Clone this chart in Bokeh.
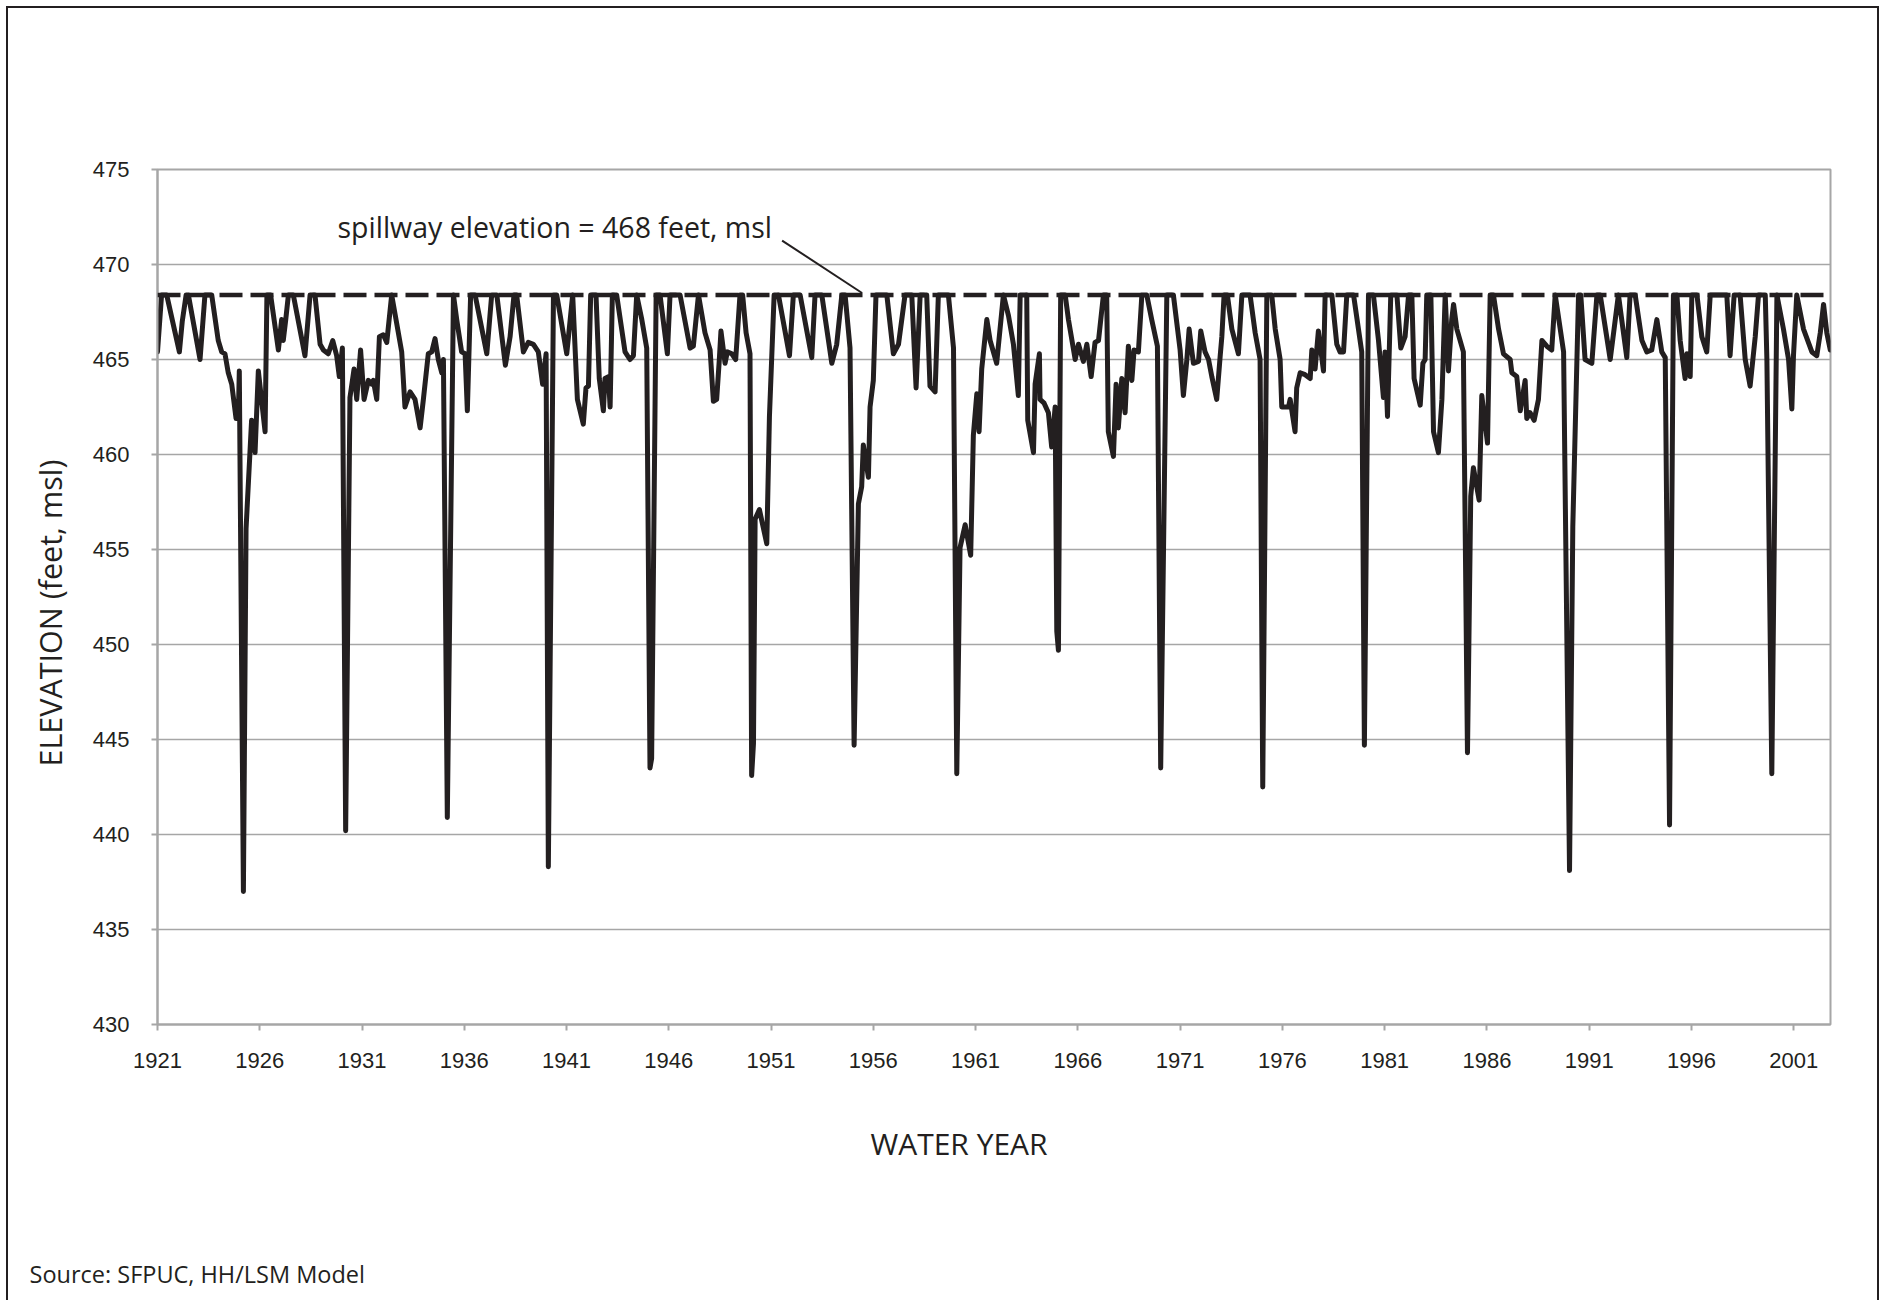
from bokeh.plotting import figure
from bokeh.models import Span, Label, Title, FixedTicker, ColumnDataSource
from bokeh.embed import file_html
from bokeh.resources import INLINE

# ---------------- data (water year, reservoir elevation in feet msl) ----------------
years_a = [
    1921.00, 1921.20, 1921.45, 1922.07, 1922.21, 1922.40, 1922.51, 1923.08, 1923.32, 1923.65,
    1923.97, 1924.14, 1924.30, 1924.46, 1924.63, 1924.84, 1924.95, 1925.00, 1925.20, 1925.33,
    1925.52, 1925.60, 1925.77, 1925.93, 1926.26, 1926.35, 1926.53, 1926.91, 1927.07, 1927.15,
    1927.27, 1927.40, 1927.64, 1928.21, 1928.46, 1928.70, 1928.95, 1929.11, 1929.35, 1929.57,
    1929.76, 1929.89, 1930.04, 1930.20, 1930.41, 1930.61, 1930.74, 1930.93, 1931.10,
]
elev_a = [
    465.4, 468.4, 468.4, 465.4, 467.0, 468.4, 468.4, 465.0, 468.4, 468.4,
    466.0, 465.4, 465.3, 464.3, 463.7, 461.9, 461.9, 464.4, 437.0, 456.1,
    460.1, 461.8, 460.1, 464.4, 461.2, 468.4, 468.4, 465.5, 467.1, 466.0,
    467.1, 468.4, 468.4, 465.2, 468.4, 468.4, 465.8, 465.5, 465.3, 466.0,
    465.2, 464.1, 465.6, 440.2, 463.0, 464.5, 462.9, 465.5, 462.9,
]

years_b = [
    1931.31, 1931.47, 1931.55, 1931.72, 1931.85, 1932.04, 1932.21, 1932.45, 1932.94, 1933.10,
    1933.35, 1933.59, 1933.84, 1934.00, 1934.24, 1934.41, 1934.57, 1934.73, 1934.90, 1934.98,
    1935.17, 1935.47, 1935.63, 1935.87, 1936.04, 1936.15, 1936.31, 1936.53, 1937.10, 1937.34,
    1937.59, 1938.01, 1938.24, 1938.43, 1938.56, 1938.89, 1939.13, 1939.38, 1939.62, 1939.83,
    1940.00, 1940.11, 1940.36, 1940.52, 1941.01, 1941.30,
]
elev_b = [
    463.9, 463.7, 463.9, 462.9, 466.2, 466.3, 465.9, 468.4, 465.4, 462.5,
    463.3, 462.9, 461.4, 462.9, 465.3, 465.4, 466.1, 465.0, 464.3, 465.0,
    440.9, 468.4, 467.1, 465.4, 465.3, 462.3, 468.4, 468.4, 465.3, 468.4,
    468.4, 464.7, 466.2, 468.4, 468.4, 465.4, 465.9, 465.8, 465.4, 463.7,
    465.3, 438.3, 468.4, 468.4, 465.3, 468.4,
]

years_c = [
    1941.53, 1941.82, 1941.95, 1942.07, 1942.18, 1942.44, 1942.60, 1942.80, 1942.88, 1943.05,
    1943.13, 1943.24, 1943.45, 1943.86, 1944.10, 1944.27, 1944.43, 1944.68, 1944.92, 1945.08,
    1945.16, 1945.38, 1945.57, 1945.93, 1946.06, 1946.55, 1947.04, 1947.20, 1947.45, 1947.77,
    1948.02, 1948.18, 1948.34, 1948.47, 1948.55, 1948.75, 1948.86, 1949.08, 1949.27, 1949.48,
    1949.61, 1949.78, 1949.97, 1950.05, 1950.14, 1950.22, 1950.43, 1950.79, 1950.92, 1951.15,
    1951.36, 1951.90,
]
elev_c = [
    462.9, 461.6, 463.5, 463.6, 468.4, 468.4, 464.0, 462.3, 464.0, 464.1,
    462.5, 468.4, 468.4, 465.4, 465.0, 465.2, 468.4, 467.1, 465.6, 443.5,
    444.0, 468.4, 468.4, 465.3, 468.4, 468.4, 465.6, 465.7, 468.4, 466.4,
    465.5, 462.8, 462.9, 465.0, 466.5, 464.8, 465.4, 465.3, 465.0, 468.4,
    468.4, 466.4, 465.3, 443.1, 444.8, 456.6, 457.1, 455.3, 462.0, 468.4,
    468.4, 465.2,
]

years_d = [
    1952.09, 1952.42, 1952.99, 1953.15, 1953.48, 1953.97, 1954.21, 1954.46, 1954.62, 1954.86,
    1955.06, 1955.27, 1955.43, 1955.51, 1955.76, 1955.84, 1956.00, 1956.13, 1956.66, 1956.98,
    1957.23, 1957.55, 1957.88, 1958.09, 1958.29, 1958.61, 1958.77, 1959.02, 1959.18, 1959.67,
    1959.92, 1960.08, 1960.24, 1960.49, 1960.76, 1960.89, 1961.06, 1961.17, 1961.30, 1961.55,
    1961.71, 1962.03,
]
elev_d = [
    468.4, 468.4, 465.1, 468.4, 468.4, 464.8, 465.8, 468.4, 468.4, 465.6,
    444.7, 457.4, 458.3, 460.5, 458.8, 462.5, 463.9, 468.4, 468.4, 465.3,
    465.8, 468.4, 468.4, 463.5, 468.4, 468.4, 463.6, 463.3, 468.4, 468.4,
    465.6, 443.2, 455.1, 456.3, 454.7, 461.0, 463.2, 461.2, 464.5, 467.1,
    466.0, 464.8,
]

years_e = [
    1962.36, 1962.61, 1962.85, 1963.09, 1963.18, 1963.50, 1963.55, 1963.83, 1963.91, 1964.12,
    1964.15, 1964.35, 1964.56, 1964.72, 1964.89, 1964.97, 1965.05, 1965.16, 1965.38, 1965.54,
    1965.87, 1966.03, 1966.27, 1966.44, 1966.65, 1966.84, 1967.01, 1967.25, 1967.41, 1967.49,
    1967.74, 1967.87, 1967.98, 1968.15, 1968.31, 1968.47, 1968.64, 1968.75, 1968.96, 1969.13,
    1969.37, 1969.61, 1969.89, 1970.05, 1970.21, 1970.35, 1970.67, 1971.00, 1971.16, 1971.33,
    1971.44, 1971.65, 1971.90, 1972.01, 1972.22,
]
elev_e = [
    468.4, 467.3, 465.8, 463.1, 468.4, 468.4, 461.8, 460.1, 463.7, 465.3,
    462.9, 462.7, 462.2, 460.4, 462.5, 450.7, 449.7, 468.4, 468.4, 467.1,
    465.0, 465.8, 464.9, 465.8, 464.1, 465.9, 466.0, 468.4, 468.4, 461.2,
    459.9, 463.7, 461.4, 464.0, 462.2, 465.7, 463.9, 465.5, 465.4, 468.4,
    468.4, 467.1, 465.7, 443.5, 456.8, 468.4, 468.4, 465.5, 463.1, 465.0,
    466.6, 464.8, 464.9, 466.5, 465.4,
]

years_f = [
    1972.39, 1972.55, 1972.79, 1972.96, 1973.04, 1973.15, 1973.31, 1973.53, 1973.85, 1974.02,
    1974.42, 1974.67, 1974.91, 1975.04, 1975.24, 1975.48, 1975.65, 1975.89, 1975.97, 1976.30,
    1976.38, 1976.62, 1976.70, 1976.87, 1977.11, 1977.36, 1977.44, 1977.60, 1977.76, 1978.01,
    1978.09, 1978.42, 1978.66, 1978.82, 1978.99, 1979.15, 1979.48, 1979.72, 1979.88, 1980.01,
    1980.21, 1980.45, 1980.70, 1980.94, 1981.02, 1981.14, 1981.30, 1981.60, 1981.79, 1982.00,
    1982.17, 1982.33, 1982.44, 1982.74,
]
elev_f = [
    465.0, 464.1, 462.9, 465.2, 466.2, 468.4, 468.4, 466.6, 465.3, 468.4,
    468.4, 466.4, 465.0, 442.5, 468.4, 468.4, 466.6, 465.0, 462.5, 462.5,
    462.9, 461.2, 463.5, 464.3, 464.2, 464.0, 465.5, 464.5, 466.5, 464.4,
    468.4, 468.4, 465.8, 465.4, 465.4, 468.4, 468.4, 466.6, 465.4, 444.7,
    468.4, 468.4, 466.0, 463.0, 465.4, 462.0, 468.4, 468.4, 465.6, 466.2,
    468.4, 468.4, 464.0, 462.6,
]

years_g = [
    1982.87, 1982.98, 1983.06, 1983.26, 1983.39, 1983.63, 1983.80, 1983.96, 1984.12, 1984.28,
    1984.37, 1984.53, 1984.85, 1985.05, 1985.21, 1985.34, 1985.62, 1985.75, 1986.03, 1986.16,
    1986.32, 1986.57, 1986.81, 1987.14, 1987.22, 1987.46, 1987.63, 1987.87, 1987.95, 1988.11,
    1988.31, 1988.52, 1988.69, 1988.93, 1989.17, 1989.34, 1989.75, 1990.04, 1990.20, 1990.48,
    1990.59, 1990.80, 1991.13, 1991.38, 1991.54, 1992.03, 1992.43, 1992.84,
]
elev_g = [
    464.8, 465.0, 468.4, 468.4, 461.2, 460.1, 462.9, 468.4, 464.4, 467.1,
    467.9, 466.6, 465.4, 444.3, 457.8, 459.3, 457.6, 463.1, 460.6, 468.4,
    468.4, 466.6, 465.3, 465.0, 464.3, 464.1, 462.3, 463.9, 461.9, 462.2,
    461.8, 462.9, 466.0, 465.7, 465.5, 468.4, 465.4, 438.1, 456.2, 468.4,
    468.4, 465.0, 464.8, 468.4, 468.4, 465.0, 468.4, 465.1,
]

years_h = [
    1993.00, 1993.25, 1993.58, 1993.82, 1994.06, 1994.31, 1994.55, 1994.72, 1994.93, 1995.12,
    1995.29, 1995.45, 1995.69, 1995.78, 1995.94, 1996.02, 1996.27, 1996.51, 1996.75, 1996.92,
    1997.73, 1997.89, 1998.09, 1998.38, 1998.63, 1998.87, 1999.12, 1999.28, 1999.61, 1999.69,
    1999.93, 2000.18, 2000.50, 2000.75, 2000.91, 2000.99, 2001.15, 2001.48, 2001.89, 2002.13,
    2002.30, 2002.46, 2002.62, 2002.79,
]
elev_h = [
    468.4, 468.4, 466.0, 465.4, 465.5, 467.1, 465.4, 465.1, 440.5, 468.4,
    468.4, 466.0, 464.0, 465.3, 464.1, 468.4, 468.4, 466.2, 465.4, 468.4,
    468.4, 465.2, 468.4, 468.4, 465.0, 463.6, 466.2, 468.4, 468.4, 465.0,
    443.2, 468.4, 466.6, 465.0, 462.4, 465.2, 468.4, 466.6, 465.4, 465.2,
    466.4, 467.9, 466.4, 465.5,
]

years = years_a + years_b + years_c + years_d + years_e + years_f + years_g + years_h
elevation = elev_a + elev_b + elev_c + elev_d + elev_e + elev_f + elev_g + elev_h
assert len(years) == len(elevation)

x_tick_years = [1921, 1926, 1931, 1936, 1941, 1946, 1951, 1956, 1961, 1966,
                1971, 1976, 1981, 1986, 1991, 1996, 2001]
y_ticks = [430, 435, 440, 445, 450, 455, 460, 465, 470, 475]
spillway_elevation = 468.4
spillway_text = "spillway elevation = 468 feet, msl"
x_title = "WATER YEAR"
y_title = "ELEVATION (feet, msl)"
source_text = "Source: SFPUC, HH/LSM Model"

# ---------------- figure ----------------
INK = "#231f20"
GRID = "#a6a6a6"

p = figure(
    width=1883, height=1300,
    x_range=(1921, 2002.8), y_range=(430, 475),
    output_backend="svg", toolbar_location=None,
    min_border_left=157, min_border_right=53,
    min_border_top=169, min_border_bottom=276,
    background_fill_color="white", border_fill_color=None,
)
# outer frame of the exhibit (left, top and right edges)
p.styles = {
    "background-color": "white",
    "box-shadow": (f"inset 6px 6px 0 0 white, inset -4px 0 0 0 white, "
                   f"inset 8px 8px 0 0 {INK}, inset -6px 0 0 0 {INK}"),
}

p.outline_line_color = GRID
p.outline_line_width = 2

p.xgrid.visible = False
p.ygrid.grid_line_color = GRID
p.ygrid.grid_line_width = 1.6

for ax in (p.xaxis, p.yaxis):
    ax.axis_line_color = GRID
    ax.axis_line_width = 2
    ax.major_tick_line_color = GRID
    ax.major_tick_line_width = 2
    ax.major_tick_out = 6
    ax.major_tick_in = 0
    ax.minor_tick_line_color = None
    ax.major_label_text_font = "Liberation Sans"
    ax.major_label_text_font_size = "22px"
    ax.major_label_text_color = INK

p.xaxis.ticker = FixedTicker(ticks=x_tick_years)
p.yaxis.ticker = FixedTicker(ticks=y_ticks)
p.xaxis.major_label_standoff = 22
p.yaxis.major_label_standoff = 22

# series
src = ColumnDataSource(data=dict(year=years, elev=elevation))
p.line(x="year", y="elev", source=src, line_color=INK, line_width=5,
       line_join="round", line_cap="round")

# spillway line
p.add_layout(Span(location=spillway_elevation, dimension="width", line_color=INK,
                  line_width=4.5, line_dash="23 8"))

# annotation and leader
p.segment(x0=[1951.54], y0=[471.26], x1=[1955.45], y1=[spillway_elevation + 0.1],
          line_color=INK, line_width=2)
p.add_layout(Label(x=1929.8, y=472.0, text=spillway_text, text_font="Open Sans",
                   text_font_size="28.5px", text_color=INK, text_align="left",
                   text_baseline="middle"))

# axis titles and source note
p.add_layout(Title(text=y_title, align="left", offset=258, standoff=38,
                   vertical_align="bottom",
                   text_font="Open Sans", text_font_size="30.5px",
                   text_font_style="normal", text_color=INK), "left")
p.add_layout(Title(text=x_title, align="left", offset=713, standoff=100,
                   vertical_align="bottom",
                   text_font="Open Sans", text_font_size="30px",
                   text_font_style="normal", text_color=INK), "below")
p.add_layout(Title(text=" ", standoff=37, text_font_size="1px"), "below")
p.add_layout(Title(text=source_text, align="left", offset=-128, standoff=4,
                   vertical_align="bottom",
                   text_font="Open Sans", text_font_size="23.5px",
                   text_font_style="normal", text_color=INK), "below")

open("out.html", "w").write(file_html(p, INLINE))
